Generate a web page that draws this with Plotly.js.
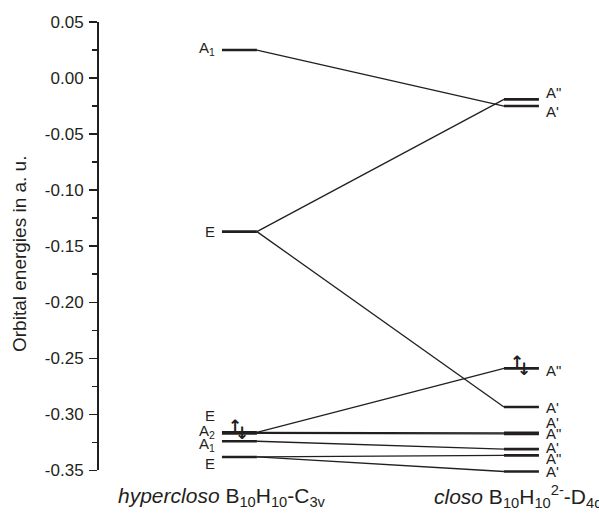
<!DOCTYPE html>
<html>
<head>
<meta charset="utf-8">
<script src="https://cdn.plot.ly/plotly-3.0.1.min.js"></script>
<style>
html,body{margin:0;padding:0;background:#fff;}
#chart{width:599px;height:518px;}
</style>
</head>
<body>
<div id="chart"></div>
<script>
// ---- data ----
const leftSymbols = ['A<sub>1</sub>', 'E', 'E', 'A<sub>2</sub>', 'A<sub>1</sub>', 'E'];
const leftEnergies = [0.025, -0.137, -0.316, -0.317, -0.324, -0.338];
const rightSymbols = ['A"', "A'", 'A"', "A'", "A'", 'A"', "A'", 'A"', "A'"];
const rightEnergies = [-0.019, -0.025, -0.259, -0.2935, -0.3165, -0.3175, -0.331, -0.3366, -0.351];
// [left index, right index]
const correlations = [[0,1],[1,0],[1,3],[2,2],[2,4],[3,5],[4,6],[5,7],[5,8]];
const occupiedLeft = [2];
const occupiedRight = [2];
const tickValues = [0.05, 0.00, -0.05, -0.10, -0.15, -0.20, -0.25, -0.30, -0.35];
const tickLabels = ['0.05', '0.00', '-0.05', '-0.10', '-0.15', '-0.20', '-0.25', '-0.30', '-0.35'];
const yTitle = 'Orbital energies in a. u.';
const leftTitle = '<i>hypercloso</i> B<sub>10</sub>H<sub>10</sub>-C<sub>3v</sub>';
const rightTitle = '<i>closo</i> B<sub>10</sub>H<sub>10</sub><sup>2-</sup>-D<sub>4d</sub>';

// ---- layout constants (positions / styles) ----
const LC = 1, RC = 2, HW = 0.062;
const leftLabelShift = [2, 0, 17, 2, -3, -7];
const rightLabelShift = [7, -5, -2, 0, 10, 0, 2, -3, 0];
const INK = '#231f20';
const FONT = 'Liberation Sans, Arial, sans-serif';
const AX_MIN = -0.35, AX_MAX = 0.05, PAD = 0.005;

const traces = [];
function seg(x0, x1, y0, y1, w) {
  traces.push({type:'scatter', mode:'lines', x:[x0, x1], y:[y0, y1], yaxis:'y2',
    line:{color:INK, width:w}, hoverinfo:'skip', showlegend:false});
}
correlations.forEach(([i, j]) => seg(LC + HW, RC - HW, leftEnergies[i], rightEnergies[j], 1.3));
leftEnergies.forEach(e => seg(LC - HW, LC + HW, e, e, 2.6));
rightEnergies.forEach(e => seg(RC - HW, RC + HW, e, e, 2.6));
// invisible trace to activate the displayed axis
traces.push({type:'scatter', mode:'markers', x:[LC], y:[0], yaxis:'y', marker:{opacity:0}, hoverinfo:'skip', showlegend:false});

const annotations = [];
leftEnergies.forEach((e, i) => annotations.push({
  x: LC - HW, y: e, xref:'x', yref:'y2', text: leftSymbols[i], showarrow:false,
  xanchor:'right', yanchor:'middle', xshift:-5, yshift:leftLabelShift[i],
  font:{family:FONT, size:15, color:INK}
}));
rightEnergies.forEach((e, i) => annotations.push({
  x: RC + HW, y: e, xref:'x', yref:'y2', text: rightSymbols[i], showarrow:false,
  xanchor:'left', yanchor:'middle', xshift:5, yshift:rightLabelShift[i],
  font:{family:FONT, size:15, color:INK}
}));
function electrons(cx, e) {
  annotations.push({x:cx, y:e, xref:'x', yref:'y2', text:'<b>↑</b>', showarrow:false,
    xshift:-4, yshift:6, font:{family:'DejaVu Sans', size:17, color:INK}});
  annotations.push({x:cx, y:e, xref:'x', yref:'y2', text:'<b>↓</b>', showarrow:false,
    xshift:3, yshift:-1, font:{family:'DejaVu Sans', size:17, color:INK}});
}
occupiedLeft.forEach(i => electrons(LC, leftEnergies[i]));
occupiedRight.forEach(i => electrons(RC, rightEnergies[i]));

annotations.push({xref:'paper', yref:'paper', x:-0.158, y:0.489, text:yTitle, textangle:-90,
  showarrow:false, xanchor:'center', yanchor:'middle', font:{family:FONT, size:19, color:INK}});
annotations.push({xref:'paper', yref:'paper', x:0.246, y:-0.046, text:leftTitle,
  showarrow:false, xanchor:'center', yanchor:'middle', font:{family:FONT, size:21, color:INK}});
annotations.push({xref:'paper', yref:'paper', x:0.838, y:-0.046, text:rightTitle,
  showarrow:false, xanchor:'center', yanchor:'middle', font:{family:FONT, size:21, color:INK}});

const span = AX_MAX - (AX_MIN - PAD);
const layout = {
  width:599, height:518,
  margin:{l:99, r:0, t:22, b:42},
  paper_bgcolor:'#fff', plot_bgcolor:'rgba(0,0,0,0)',
  showlegend:false,
  xaxis:{range:[0.502, 2.275], visible:false, fixedrange:true},
  yaxis:{range:[AX_MIN, AX_MAX], domain:[PAD / span, 1], anchor:'x',
    tickmode:'array', tickvals:tickValues, ticktext:tickLabels,
    ticks:'outside', ticklen:8, tickwidth:1.5, tickcolor:INK, ticklabelstandoff:2,
    showline:true, linecolor:INK, linewidth:2, showgrid:false, zeroline:false,
    tickfont:{family:FONT, size:17, color:INK},
    minor:{dtick:0.025, tick0:0, ticks:'outside', ticklen:5, tickwidth:1.5, tickcolor:INK, showgrid:false},
    fixedrange:true},
  yaxis2:{range:[AX_MIN - PAD, AX_MAX], domain:[0, 1], anchor:'x', visible:false,
    showgrid:false, zeroline:false, fixedrange:true},
  annotations:annotations
};
Plotly.newPlot('chart', traces, layout, {displayModeBar:false, staticPlot:true});
</script>
</body>
</html>
